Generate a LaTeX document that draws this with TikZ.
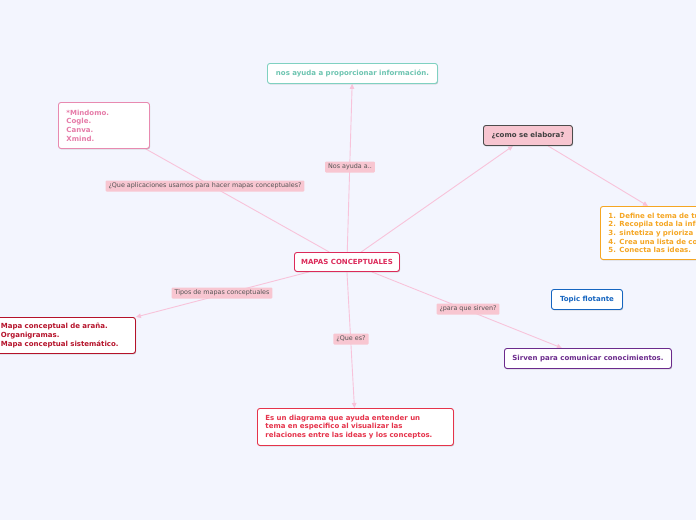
\documentclass[tikz,border=0pt]{standalone}
\usepackage{fontspec}
\setmainfont{DejaVu Sans}
\usetikzlibrary{arrows.meta,shadows,backgrounds,calc}
\definecolor{bgc}{HTML}{F3F5FE}
\definecolor{conn}{HTML}{F8C3DA}
\definecolor{lblfill}{HTML}{F8C6D1}
\definecolor{lbltext}{HTML}{555555}
\definecolor{teal}{HTML}{6CC4B0}
\definecolor{tealb}{HTML}{7FD1C1}
\definecolor{apink}{HTML}{E67BA8}
\definecolor{apinkb}{HTML}{E88AB0}
\definecolor{comof}{HTML}{F7C5D0}
\definecolor{orng}{HTML}{F5A623}
\definecolor{crim}{HTML}{DC2A5A}
\definecolor{dred}{HTML}{B5122A}
\definecolor{rred}{HTML}{E5334B}
\definecolor{blu}{HTML}{1565C0}
\definecolor{purp}{HTML}{6B2A8C}
\tikzset{
  box/.style={draw, line width=0.9pt, rounded corners=2.5pt, fill=white,
    font=\bfseries\fontsize{7}{8.7}\selectfont, inner sep=0pt,
    drop shadow={shadow xshift=0.6pt, shadow yshift=-1pt, fill=black!35, opacity=0.6}},
  lbl/.style={fill=lblfill, text=lbltext, rounded corners=1pt, inner xsep=3pt, inner ysep=0pt,
    minimum height=11pt, font=\fontsize{6.4}{7.5}\selectfont},
  conline/.style={draw=conn, line width=0.9pt},
  arr/.style={conline, -{Triangle[length=5pt,width=4.5pt]}},
}
\begin{document}
\begin{tikzpicture}[x=1pt,y=-1pt]
\useasboundingbox (0,0) rectangle (696,520);
\clip (0,0) rectangle (696,520);

\node[box, draw=crim, text=crim, minimum width=105pt, minimum height=19pt, anchor=north west] (c) at (294,252) {MAPAS CONCEPTUALES};

\node[box, draw=tealb, text=teal, minimum width=170pt, minimum height=20pt, anchor=north west] (info) at (267,63) {nos ayuda a proporcionar información.};

\node[box, draw=apinkb, text=apink, minimum height=46pt, anchor=north west, align=left, text width=75pt, inner xsep=8pt] (apps) at (58,102) {*Mindomo.\\*Cogle.\\*Canva.\\*Xmind.};

\node[box, draw=black!70, fill=comof, text=black!75, minimum width=89pt, minimum height=20pt, anchor=north west] (como) at (483,125) {¿como se elabora?};

\node[box, draw=orng, text=orng, minimum height=53pt, anchor=north west, align=left, text width=130pt, inner xsep=8pt] (steps) at (600,206) {1. Define el tema de tu mapa.\\2. Recopila toda la información.\\3. sintetiza y prioriza las ideas.\\4. Crea una lista de conceptos.\\5. Conecta las ideas.};

\node[box, draw=dred, text=dred, minimum height=36pt, anchor=north west, align=left, text width=128pt, inner xsep=6.5pt] (tipos) at (-6,317) {Mapa conceptual de araña.\\Organigramas.\\Mapa conceptual sistemático.};

\node[box, draw=rred, text=rred, minimum height=37pt, anchor=north west, align=left, text width=180pt, inner xsep=8pt] (quees) at (257,408) {Es un diagrama que ayuda entender un\\tema en especifico al visualizar las\\relaciones entre las ideas y los conceptos.};

\node[box, draw=blu, text=blu, minimum width=71pt, minimum height=20pt, anchor=north west] (topic) at (551,289) {Topic flotante};

\node[box, draw=purp, text=purp, minimum width=167pt, minimum height=20pt, anchor=north west] (sirven) at (504,348) {Sirven para comunicar conocimientos.};

\begin{scope}[on background layer]
\fill[bgc] (0,0) rectangle (696,520);
\draw[arr] (c) -- (info);
\draw[conline] (c) -- (apps);
\draw[arr] (c) -- ([xshift=30pt]como.south west);
\draw[arr] ([xshift=65pt]como.south west) -- ([xshift=48pt]steps.north west);
\draw[arr] ([xshift=15pt]c.south west) -- (tipos.north east);
\draw[arr] (c.south) -- ([xshift=-1pt]quees.north);
\draw[arr] (c) -- (sirven);
\end{scope}

\node[lbl] (l1) at (350,167) {Nos ayuda a..};
\node[lbl] (l2) at (205,186) {¿Que aplicaciones usamos para hacer mapas conceptuales?};
\node[lbl] (l3) at (222,293) {Tipos de mapas conceptuales};
\node[lbl] (l4) at (351,339) {¿Que es?};
\node[lbl] (l5) at (468,309) {¿para que sirven?};
\end{tikzpicture}
\end{document}
